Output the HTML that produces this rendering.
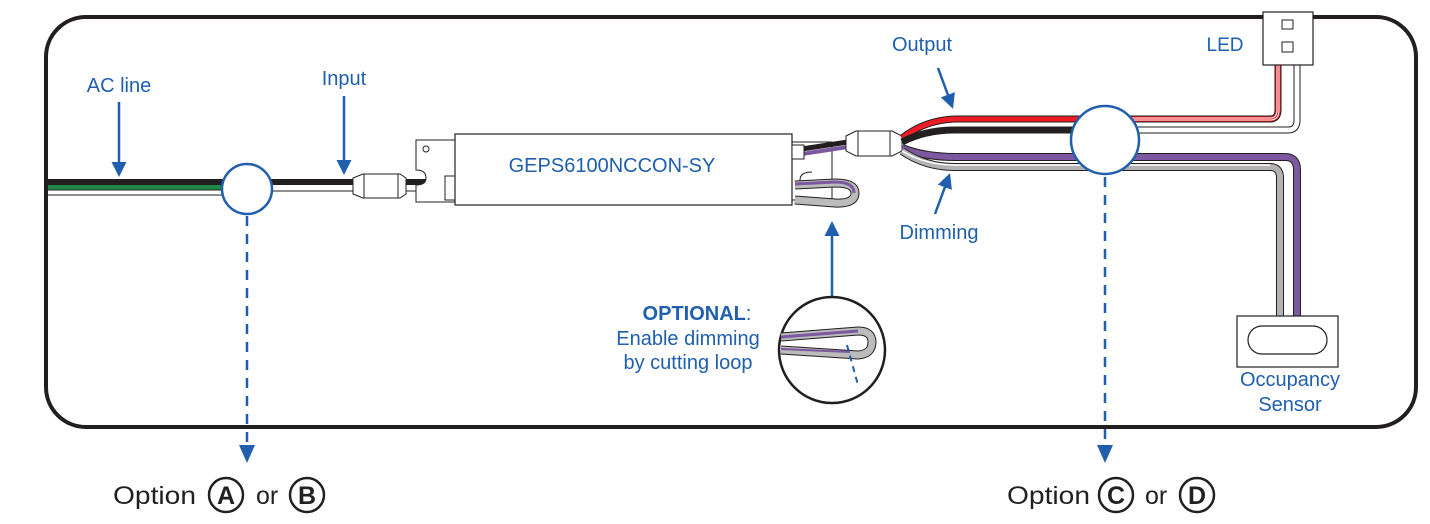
<!DOCTYPE html>
<html><head><meta charset="utf-8"><style>
html,body{margin:0;padding:0;background:#fff;}
svg{display:block;}
text{font-family:"Liberation Sans",sans-serif;}
</style></head><body>
<svg width="1430" height="524" viewBox="0 0 1430 524" xmlns="http://www.w3.org/2000/svg">
<defs>
<marker id="ah" viewBox="0 0 10 10" refX="8" refY="5" markerWidth="6" markerHeight="6" orient="auto"><path d="M0,0 L10,5 L0,10 z" fill="#1f5fae"/></marker>
</defs>
<rect x="46" y="17" width="1370" height="410" rx="40" fill="#fff" stroke="#231f20" stroke-width="4"/>

<!-- left wires -->
<rect x="48" y="179" width="180" height="6" fill="#231f20"/>
<rect x="48" y="185" width="180" height="5" fill="#1e8a45"/>
<line x1="48" y1="195" x2="228" y2="195" stroke="#231f20" stroke-width="1"/>
<line x1="48" y1="190" x2="228" y2="190" stroke="#231f20" stroke-width="1"/>
<rect x="268" y="179" width="90" height="6" fill="#231f20"/>
<line x1="268" y1="191" x2="358" y2="191" stroke="#231f20" stroke-width="1"/>
<rect x="398" y="179" width="60" height="6" fill="#231f20"/>
<line x1="398" y1="191" x2="458" y2="191" stroke="#231f20" stroke-width="1"/>
<!-- input connector -->
<path d="M353,178 L363,174 L400,174 L406,178 L406,194 L400,198 L363,198 L353,194 z" fill="#fff" stroke="#231f20" stroke-width="1"/>
<line x1="364" y1="174" x2="364" y2="198" stroke="#231f20"/><line x1="398" y1="174" x2="398" y2="198" stroke="#231f20"/>

<!-- brackets -->
<path d="M416,140 L455,140 L455,202 L416,202 L416,185 Q426,185 426,178 Q426,170 416,170 z" fill="#fff" stroke="#231f20"/>
<circle cx="426" cy="149" r="3" fill="none" stroke="#231f20"/>
<rect x="445" y="176" width="10" height="24" fill="#fff" stroke="#231f20"/>
<path d="M792,142 L832,142 L832,200 L792,200 z" fill="#fff" stroke="#231f20"/>
<path d="M812,172 Q800,172 800,180 Q800,188 812,188" fill="#fff" stroke="#231f20"/>
<!-- driver -->
<rect x="455" y="134" width="337" height="71" fill="#fff" stroke="#231f20" stroke-width="1.2"/>
<text x="612" y="172" font-size="20" fill="#1f5fae" text-anchor="middle">GEPS6100NCCON-SY</text>

<!-- driver output wires -->
<path d="M795,150 L848,142" stroke="#231f20" stroke-width="5" fill="none"/>
<path d="M795,155 L848,147" stroke="#7b58a0" stroke-width="4" fill="none"/>
<rect x="792" y="145" width="12" height="14" fill="#fff" stroke="#231f20"/>
<!-- loop -->
<path d="M795,185 L835,183 Q855,183 855,193 Q855,204 835,203 L795,200" fill="none" stroke="#231f20" stroke-width="9"/>
<path d="M795,185 L835,183 Q855,183 855,193 Q855,204 835,203 L795,200" fill="none" stroke="#bbb" stroke-width="7"/>
<path d="M795,184 L835,182 Q854,182 854,193" fill="none" stroke="#7b58a0" stroke-width="3"/>

<!-- output connector -->
<path d="M846,136 L856,131 L892,131 L902,136 L902,151 L892,156 L856,156 L846,151 z" fill="#fff" stroke="#231f20"/>
<line x1="858" y1="131" x2="858" y2="156" stroke="#231f20"/><line x1="890" y1="131" x2="890" y2="156" stroke="#231f20"/>

<!-- output wires -->
<path d="M902,138 Q925,120 955,119 L1270,119 Q1278,119 1278,110 L1278,65" fill="none" stroke="#231f20" stroke-width="7"/>
<path d="M902,138 Q925,120 955,119 L1270,119 Q1278,119 1278,110 L1278,65" fill="none" stroke="#ed1c24" stroke-width="5"/>
<path d="M1110,119 L1270,119 Q1278,119 1278,110 L1278,65" fill="none" stroke="#fff" stroke-width="3"/>
<path d="M1110,119 L1270,119 Q1278,119 1278,110 L1278,65" fill="none" stroke="#ed1c24" stroke-width="1"/>
<path d="M902,142 Q925,130 955,130 L1288,130 Q1297,130 1297,120 L1297,65" fill="none" stroke="#231f20" stroke-width="7"/>
<path d="M1110,130 L1288,130 Q1297,130 1297,120 L1297,65" fill="none" stroke="#fff" stroke-width="5"/>
<path d="M902,148 Q925,157 955,157 L1285,157 Q1297,157 1297,170 L1297,318" fill="none" stroke="#231f20" stroke-width="8"/>
<path d="M902,148 Q925,157 955,157 L1285,157 Q1297,157 1297,170 L1297,318" fill="none" stroke="#7b58a0" stroke-width="6"/>
<path d="M902,151 Q925,167 955,167 L1270,167 Q1280,167 1280,178 L1280,318" fill="none" stroke="#231f20" stroke-width="8"/>
<path d="M902,151 Q925,167 955,167 L1270,167 Q1280,167 1280,178 L1280,318" fill="none" stroke="#b3b3b3" stroke-width="6"/>
<path d="M902,151 Q925,165 955,165 L1270,165" fill="none" stroke="#fff" stroke-width="1.5"/>

<!-- LED -->
<rect x="1263" y="12" width="50" height="53" fill="#fff" stroke="#231f20" stroke-width="1.2"/>
<rect x="1282" y="20" width="11" height="9" fill="#fff" stroke="#231f20"/>
<rect x="1282" y="42" width="11" height="10" fill="#fff" stroke="#231f20"/>
<text x="1225" y="51" font-size="19" fill="#1f5fae" text-anchor="middle">LED</text>

<!-- sensor -->
<rect x="1237" y="316" width="101" height="51" fill="#fff" stroke="#231f20" stroke-width="1.2"/>
<rect x="1248" y="326" width="79" height="28" rx="14" fill="#fff" stroke="#231f20" stroke-width="1.2"/>
<text x="1290" y="386" font-size="20" fill="#1f5fae" text-anchor="middle">Occupancy</text>
<text x="1290" y="411" font-size="20" fill="#1f5fae" text-anchor="middle">Sensor</text>

<!-- circles -->
<circle cx="247" cy="189" r="25" fill="#fff" stroke="#1f5fae" stroke-width="2.5"/>
<circle cx="1105" cy="140" r="34" fill="#fff" stroke="#1f5fae" stroke-width="2.5"/>

<!-- dashed lines -->
<line x1="247" y1="216" x2="247" y2="450" stroke="#1f5fae" stroke-width="2.5" stroke-dasharray="10,8"/>
<path d="M239,445 L255,445 L247,463 z" fill="#1f5fae"/>
<line x1="1105" y1="177" x2="1105" y2="450" stroke="#1f5fae" stroke-width="2.5" stroke-dasharray="10,8"/>
<path d="M1097,445 L1113,445 L1105,463 z" fill="#1f5fae"/>

<!-- labels & arrows -->
<text x="119" y="92" font-size="20" fill="#1f5fae" text-anchor="middle">AC line</text>
<line x1="119" y1="102" x2="119" y2="174" stroke="#1f5fae" stroke-width="2.5" marker-end="url(#ah)"/>
<text x="344" y="85" font-size="20" fill="#1f5fae" text-anchor="middle">Input</text>
<line x1="344" y1="96" x2="344" y2="172" stroke="#1f5fae" stroke-width="2.5" marker-end="url(#ah)"/>
<text x="922" y="51" font-size="20" fill="#1f5fae" text-anchor="middle">Output</text>
<line x1="938" y1="68" x2="952" y2="106" stroke="#1f5fae" stroke-width="2.5" marker-end="url(#ah)"/>
<text x="939" y="239" font-size="20" fill="#1f5fae" text-anchor="middle">Dimming</text>
<line x1="935" y1="214" x2="949" y2="176" stroke="#1f5fae" stroke-width="2.5" marker-end="url(#ah)"/>

<!-- optional -->
<line x1="832" y1="296" x2="832" y2="224" stroke="#1f5fae" stroke-width="2.5" marker-end="url(#ah)"/>
<circle cx="832" cy="350" r="53" fill="#fff" stroke="#231f20" stroke-width="2.5"/>
<path d="M781,337 L858,331 Q872,331 872,342 Q872,354 858,355 L781,350" fill="none" stroke="#231f20" stroke-width="9"/>
<path d="M781,337 L858,331 Q872,331 872,342 Q872,354 858,355 L781,350" fill="none" stroke="#bbb" stroke-width="7"/>
<path d="M781,337 L858,331" fill="none" stroke="#7b58a0" stroke-width="3"/>
<path d="M781,349 L850,352" fill="none" stroke="#7b58a0" stroke-width="2"/>
<line x1="847" y1="345" x2="858" y2="385" stroke="#1f5fae" stroke-width="2" stroke-dasharray="6,5"/>
<text x="697" y="320" font-size="20" fill="#1f5fae" text-anchor="middle"><tspan font-weight="bold">OPTIONAL</tspan>:</text>
<text x="688" y="345" font-size="20" fill="#1f5fae" text-anchor="middle">Enable dimming</text>
<text x="688" y="369" font-size="20" fill="#1f5fae" text-anchor="middle">by cutting loop</text>

<!-- options -->
<g font-size="25" fill="#231f20">
<text x="113" y="504" textLength="83" lengthAdjust="spacingAndGlyphs">Option</text>
<circle cx="226" cy="495" r="17" fill="none" stroke="#231f20" stroke-width="2.5"/>
<text x="226" y="504" text-anchor="middle" font-weight="bold">A</text>
<text x="256" y="504">or</text>
<circle cx="307" cy="495" r="17" fill="none" stroke="#231f20" stroke-width="2.5"/>
<text x="307" y="504" text-anchor="middle" font-weight="bold">B</text>
<text x="1007" y="504" textLength="83" lengthAdjust="spacingAndGlyphs">Option</text>
<circle cx="1116" cy="495" r="17" fill="none" stroke="#231f20" stroke-width="2.5"/>
<text x="1116" y="504" text-anchor="middle" font-weight="bold">C</text>
<text x="1145" y="504">or</text>
<circle cx="1197" cy="495" r="17" fill="none" stroke="#231f20" stroke-width="2.5"/>
<text x="1197" y="504" text-anchor="middle" font-weight="bold">D</text>
</g>
</svg>
</body></html>
